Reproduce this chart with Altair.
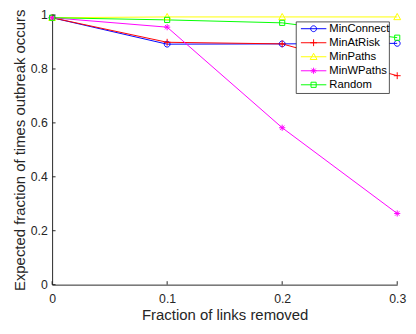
import altair as alt
import pandas as pd

x_vals = [0, 0.1, 0.2, 0.3]
series = ["MinConnect", "MinAtRisk", "MinPaths", "MinWPaths", "Random"]
min_connect = [0.99, 0.892, 0.893, 0.895]
min_at_risk = [0.99, 0.899, 0.893, 0.775]
min_paths = [0.99, 0.993, 0.993, 0.993]
min_wpaths = [0.99, 0.955, 0.582, 0.264]
random_vals = [0.99, 0.982, 0.971, 0.916]
colors = ["#0000ff", "#ff0000", "#ffff00", "#ff00ff", "#00ff00"]
x_ticks = [0, 0.1, 0.2, 0.3]
y_ticks = [0, 0.2, 0.4, 0.6, 0.8, 1]

values = [min_connect, min_at_risk, min_paths, min_wpaths, random_vals]
rows = []
for s, vals in zip(series, values):
    for xv, yv in zip(x_vals, vals):
        rows.append({"x": xv, "y": yv, "series": s})
df = pd.DataFrame(rows)


def f(v):
    return f"{v:.3f}".rstrip("0").rstrip(".")


def circle(r):
    return f"M{f(-r)},0A{f(r)},{f(r)} 0 1,1 {f(r)},0A{f(r)},{f(r)} 0 1,1 {f(-r)},0Z"


def plus(r):
    return f"M{f(-r)},0H{f(r)}M0,{f(-r)}V{f(r)}"


def tri(r):
    return f"M0,{f(-r)}L{f(r)},{f(0.8*r)}L{f(-r)},{f(0.8*r)}Z"


def ast(r):
    d = 0.7 * r
    return (f"M{f(-r)},0H{f(r)}M0,{f(-r)}V{f(r)}"
            f"M{f(-d)},{f(-d)}L{f(d)},{f(d)}M{f(-d)},{f(d)}L{f(d)},{f(-d)}")


def square(r):
    return f"M{f(-r)},{f(-r)}H{f(r)}V{f(r)}H{f(-r)}Z"


makers = [(circle, 0.85), (plus, 1.0), (tri, 1.0), (ast, 0.9), (square, 0.75)]
data_shapes = [m(r) for m, r in makers]
k = 3.5 / 13.0
legend_shapes = ["M-1,0H1" + m(r * k) for m, r in makers]

FONT = "Liberation Sans"
DARK = "#262626"

x_scale = alt.Scale(domain=[0, 0.3], nice=False, zero=False)
y_scale = alt.Scale(domain=[0, 1], nice=False)

x_axis = alt.Axis(values=x_ticks, format="~g", title="Fraction of links removed",
                  grid=False, ticks=False, tickSize=0, labelPadding=8, titlePadding=3,
                  labelFlush=False, labelOverlap=False, labelFontSize=12.5, titleFontSize=15.2,
                  titleFontWeight="normal")
y_axis = alt.Axis(values=y_ticks, format="~g", title="Expected fraction of times outbreak occurs",
                  grid=False, ticks=False, tickSize=0, labelPadding=5, titlePadding=3,
                  labelFlush=False, labelOverlap=False, labelFontSize=12.5, titleFontSize=15.2,
                  titleFontWeight="normal")

color_scale = alt.Scale(domain=series, range=colors)
shape_scale = alt.Scale(domain=series, range=legend_shapes)

legend = alt.Legend(
    title=None, orient="none", legendX=251, legendY=6,
    symbolSize=676, clipHeight=11.5, rowPadding=1.3, padding=2.2,
    labelOffset=2.5, labelFont=FONT, labelFontSize=11.5, labelColor="#000000",
    strokeColor="transparent", fillColor="transparent", symbolStrokeWidth=1, symbolOpacity=1,
)

lines = alt.Chart(df).mark_line(strokeWidth=1).encode(
    x=alt.X("x:Q", scale=x_scale, axis=x_axis),
    y=alt.Y("y:Q", scale=y_scale, axis=y_axis),
    color=alt.Color("series:N", scale=color_scale, legend=None),
)

point_layers = []
for s, c, p in zip(series, colors, data_shapes):
    point_layers.append(
        alt.Chart(df).transform_filter(alt.datum.series == s)
        .mark_point(size=49, filled=False, strokeWidth=1, opacity=1, shape=p, color=c)
        .encode(x="x:Q", y="y:Q")
    )

legend_layer = alt.Chart(df).mark_point(
    filled=False, strokeWidth=1, strokeOpacity=0, fillOpacity=0
).encode(
    x="x:Q",
    y="y:Q",
    color=alt.Color("series:N", scale=color_scale, legend=legend),
    shape=alt.Shape("series:N", scale=shape_scale, legend=legend),
)

legend_frame = alt.Chart(pd.DataFrame({"a": [0]})).mark_rect(
    fill="white", stroke=DARK, strokeWidth=0.8
).encode(x=alt.value(249), x2=alt.value(344), y=alt.value(7), y2=alt.value(80))

xt = alt.Chart(pd.DataFrame({"t": x_ticks})).mark_rule(color=DARK, strokeWidth=1).encode(
    x="t:Q", y=alt.value(275), y2=alt.value(271.5))
yt = alt.Chart(pd.DataFrame({"t": y_ticks})).mark_rule(color=DARK, strokeWidth=1).encode(
    y="t:Q", x=alt.value(0), x2=alt.value(3.5))

chart = alt.layer(legend_layer, lines, *point_layers, xt, yt, legend_frame).properties(
    width=352, height=275,
    autosize=alt.AutoSizeParams(type="none"),
    padding={"left": 45, "top": 4, "right": 11, "bottom": 39},
).configure_view(stroke=None).configure_axis(
    domainColor=DARK, domainWidth=1, labelColor=DARK, titleColor=DARK,
    labelFont=FONT, titleFont=FONT,
)

chart.save("out.html", embed_options={"renderer": "svg", "actions": False})
